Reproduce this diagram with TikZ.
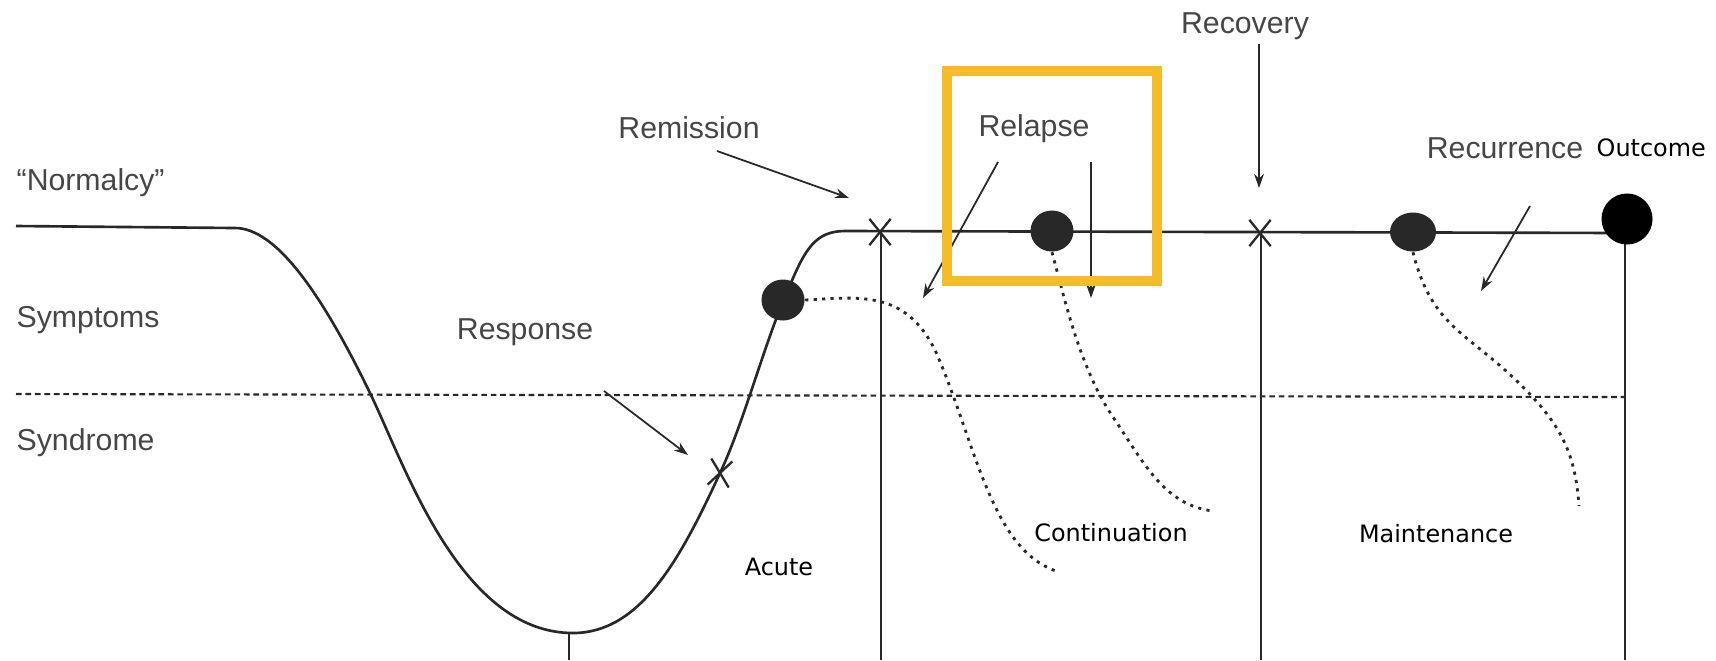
\documentclass[tikz,border=0pt]{standalone}
\usepackage{fontspec}
\setmainfont{Liberation Sans}
\newfontfamily\notefont{DejaVu Sans}
\usepackage{tikz}
\usetikzlibrary{arrows.meta, shapes.misc, shapes.geometric}
\definecolor{scangray}{RGB}{70, 70, 70}
\definecolor{inkdark}{RGB}{40, 40, 40}
\definecolor{markyellow}{RGB}{245, 188, 42}

\begin{document}
\begin{tikzpicture}[x=0.01cm, y=-0.01cm,
  course/.style={draw=inkdark, line width=0.75pt},
  guide/.style={draw=inkdark, line width=0.6pt},
  relapsepath/.style={draw=inkdark, line width=0.8pt, dash pattern=on 0.9pt off 1.5pt},
  boundary/.style={draw=inkdark, line width=0.6pt, dash pattern=on 1.6pt off 1.1pt},
  pointer/.style={draw=inkdark, line width=0.5pt, -{Stealth[length=4pt, width=2.8pt]}},
  scanlabel/.style={text=scangray, font=\fontsize{8.6}{10}\selectfont, inner sep=0pt},
  phaselabel/.style={text=black, font=\notefont\fontsize{6.8}{8}\selectfont, inner sep=0pt},
  xmark/.style={cross out, draw=inkdark, line width=0.65pt, minimum width=0.19cm, minimum height=0.24cm, inner sep=0pt},
  event/.style={ellipse, fill=inkdark, minimum width=0.43cm, minimum height=0.41cm, inner sep=0pt}
]
  \useasboundingbox (0,0) rectangle (1716,660);

  % Levels
  \node[scanlabel, anchor=west] (normalcy) at (16,183) {“Normalcy”};
  \node[scanlabel, anchor=west] (symptoms) at (16,320) {Symptoms};
  \node[scanlabel, anchor=west] (syndrome) at (16,443) {Syndrome};
  \draw[boundary] (16,394) -- (1625,397);

  % Course of illness
  \draw[course] (16,226) -- (235,228)
    .. controls (275,228) and (320,290) .. (370,393)
    .. controls (405,465) and (460,633) .. (573,633)
    .. controls (640,633) and (680,560) .. (720,473)
    .. controls (745,420) and (765,340) .. (790,285)
    .. controls (805,250) and (815,231) .. (845,231)
    -- (1625,233);

  % Phase boundaries
  \draw[guide] (569,633) -- (569,660);
  \draw[guide] (881,231) -- (881,660);
  \draw[guide] (1261,232) -- (1261,660);
  \draw[guide] (1625,233) -- (1625,660);

  % Events
  \node[xmark, rotate=-8] (respx) at (720,473) {};
  \node[xmark] (remx) at (880,232) {};
  \node[xmark] (recx) at (1260,233) {};
  \node[event] (dotA) at (783,300) {};
  \node[event] (dotB) at (1052,231) {};
  \node[event, minimum width=0.46cm, minimum height=0.39cm] (dotC) at (1413,232) {};
  \node[circle, fill=black, minimum size=0.51cm, inner sep=0pt] (outcomedot) at (1627,219) {};

  % Relapse / recurrence paths
  \draw[relapsepath] (dotA.east) .. controls (860,297) and (905,290) .. (935,350)
    .. controls (975,440) and (990,548) .. (1056,571);
  \draw[relapsepath] (dotB.south) .. controls (1065,300) and (1080,370) .. (1115,420)
    .. controls (1145,465) and (1165,505) .. (1213,511);
  \draw[relapsepath] (dotC.south) .. controls (1430,320) and (1460,330) .. (1505,370)
    .. controls (1560,420) and (1575,450) .. (1579,506);

  % Labels and pointers
  \node[scanlabel] (response) at (525,332) {Response};
  \node[scanlabel] (remission) at (689,128) {Remission};
  \node[scanlabel] (relapse) at (1034,129) {Relapse};
  \node[scanlabel] (recovery) at (1245,26) {Recovery};
  \node[scanlabel] (recurrence) at (1505,148) {Recurrence};
  \node[phaselabel, anchor=west] (outcome) at (1596,148) {Outcome};

  \coordinate (respTip) at (688,455);
  \coordinate (remTip) at (849,198);
  \coordinate (relTipA) at (923,298);
  \coordinate (relTipB) at (1091,298);
  \coordinate (recTip) at (1259,188);
  \coordinate (recuTip) at (1481,291);
  \draw[pointer] (604,391) -- (respTip);
  \draw[pointer] (717,151) -- (remTip);
  \draw[pointer] (998,162) -- (relTipA);
  \draw[pointer] (1091,162) -- (relTipB);
  \draw[pointer] (1259,44) -- (recTip);
  \draw[pointer] (1530,206) -- (recuTip);

  % Phases
  \node[phaselabel] (acute) at (779,567) {Acute};
  \node[phaselabel] (continuation) at (1111,533) {Continuation};
  \node[phaselabel] (maintenance) at (1436,534) {Maintenance};

  % Highlight
  \draw[markyellow, line width=3.1pt] (947,71) rectangle (1157,281);
\end{tikzpicture}
\end{document}
